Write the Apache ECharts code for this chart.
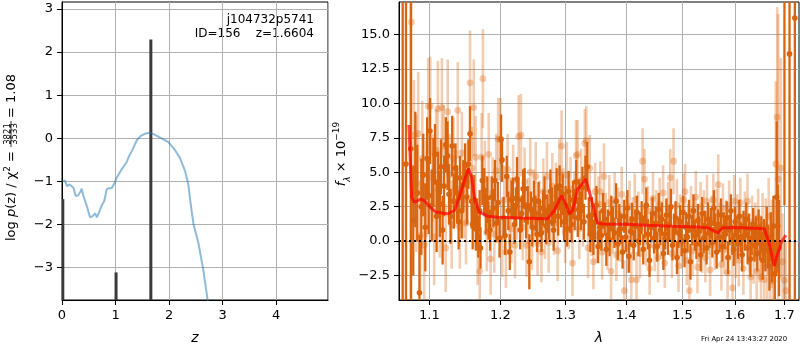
<!DOCTYPE html>
<html>
<head>
<meta charset="utf-8">
<script src="https://cdn.jsdelivr.net/npm/echarts@6/dist/echarts.min.js"></script>
<style>
  html, body { margin: 0; padding: 0; background: #fff; }
  #chart { width: 800px; height: 350px; }
</style>
</head>
<body>
<div id="chart"></div>
<script>
// ---- left panel: log p(z) ----
const pzTicks = [-3, -2, -1, 0, 1, 2, 3];
const pzLine = [
  [0.0, -1.0], [0.02, -1.03], [0.056, -0.98], [0.093, -1.11], [0.131, -1.07], [0.18, -1.11],
  [0.218, -1.16], [0.255, -1.34], [0.305, -1.32], [0.343, -1.24], [0.368, -1.17], [0.405, -1.36],
  [0.461, -1.56], [0.523, -1.83], [0.567, -1.81], [0.617, -1.74], [0.654, -1.83], [0.692, -1.72],
  [0.741, -1.56], [0.791, -1.45], [0.835, -1.18], [0.879, -1.16], [0.928, -1.16], [0.978, -1.05],
  [1.02, -0.92], [1.115, -0.72], [1.21, -0.55], [1.25, -0.42], [1.315, -0.27], [1.40, -0.04],
  [1.477, 0.06], [1.56, 0.11], [1.645, 0.13], [1.738, 0.08], [1.86, 0.0], [1.987, -0.09],
  [2.11, -0.27], [2.206, -0.46], [2.30, -0.76], [2.36, -1.07], [2.405, -1.53], [2.455, -1.98],
  [2.55, -2.44], [2.64, -3.05], [2.72, -3.74], [2.76, -4.1]
];
// template peaks (z, log p)
const pzPeaks = [[0.015, -1.41], [1.01, -3.11], [1.66, 2.29]];

// ---- right panel: spectrum ----
const waveTicks = [1.1, 1.2, 1.3, 1.4, 1.5, 1.6, 1.7];
const fluxTicks = [-2.5, 0, 2.5, 5, 7.5, 10, 12.5, 15];

// model (lambda, flux)
const modelLine = [
  [1.0728, 8.43], [1.0747, 5.56], [1.0764, 3.18], [1.0800, 2.82], [1.0887, 3.05], [1.0933, 2.94],
  [1.1000, 2.51], [1.1089, 2.10], [1.1250, 1.98], [1.1342, 2.22], [1.1412, 3.18], [1.1482, 4.37],
  [1.1539, 5.28], [1.1585, 4.61], [1.1632, 2.94], [1.1695, 2.10], [1.1815, 1.81], [1.1960, 1.74],
  [1.2300, 1.68], [1.2716, 1.62], [1.2820, 2.22], [1.2936, 3.30], [1.3000, 2.70], [1.3060, 1.98],
  [1.3112, 2.22], [1.3192, 3.77], [1.3327, 4.49], [1.3409, 3.18], [1.3491, 1.74], [1.3520, 1.31],
  [1.3600, 1.24], [1.4000, 1.22], [1.4370, 1.15], [1.4800, 1.08], [1.5280, 1.03], [1.5500, 0.95],
  [1.5560, 0.79], [1.5660, 0.60], [1.5760, 0.97], [1.6000, 0.98], [1.6400, 0.93], [1.6585, 0.90],
  [1.6685, -0.17], [1.6788, -1.80], [1.6840, -1.13], [1.6940, -0.05], [1.7030, 0.43]
];

// well measured pixels (lambda, flux, error)
const darkPoints = [
  [1.0646, 22, 40], [1.0689, 5.6, 30], [1.0753, 6.7, 30],
  [1.0785, 1.5, 4.0], [1.0812, 5.2, 4.2], [1.0838, 3.5, 3.5], [1.0867, -3.75, 4.2], [1.0892, 2.5, 3.5],
  [1.0918, 4.8, 3.0], [1.0945, 1.0, 3.2], [1.0970, 6.0, 3.0], [1.0990, 3.3, 2.8], [1.1008, 8.0, 2.4],
  [1.1032, 2.6, 2.6], [1.1055, 5.0, 2.5], [1.1076, 6.3, 2.2], [1.1098, 1.8, 2.6], [1.1120, 4.3, 2.2],
  [1.1142, 2.7, 2.4], [1.1157, 5.4, 2.0], [1.1180, 0.8, 2.5], [1.1200, 4.0, 2.2], [1.1225, 7.0, 2.0],
  [1.1248, 6.2, 2.5], [1.1268, 3.4, 2.2], [1.1290, 1.8, 2.0], [1.1312, 6.9, 2.2], [1.1335, 2.9, 2.0],
  [1.1358, 5.3, 1.8], [1.1380, 3.5, 2.0], [1.1402, 1.4, 2.0], [1.1420, 4.6, 1.6], [1.1445, 2.2, 2.0],
  [1.1468, 4.1, 1.8], [1.1492, 5.5, 1.6], [1.1518, 3.2, 2.0], [1.1540, 5.6, 1.8], [1.1562, 7.8, 2.0],
  [1.1585, 2.9, 2.0], [1.1600, 1.2, 1.8], [1.1622, 3.0, 1.8], [1.1645, 0.9, 1.6], [1.1665, 1.6, 1.5],
  [1.1680, 0.3, 1.5], [1.1700, 2.2, 1.5], [1.1712, -0.5, 1.5], [1.1738, 4.4, 1.8], [1.1765, 3.7, 1.6],
  [1.1788, 2.0, 1.5], [1.1810, 3.1, 1.6], [1.1828, 1.5, 1.4], [1.1850, 0.8, 1.5], [1.1874, 3.2, 1.5],
  [1.1898, 2.4, 1.4], [1.1920, 4.4, 1.5], [1.1942, 1.3, 1.4], [1.1965, 2.8, 1.5], [1.1988, 0.2, 1.4],
  [1.2010, 7.4, 1.8], [1.2025, 5.9, 1.6], [1.2048, 1.7, 1.5], [1.2070, 0.4, 1.4], [1.2095, 4.7, 1.5],
  [1.2118, 2.2, 1.4], [1.2140, -0.8, 1.3], [1.2165, 3.0, 1.4], [1.2186, 3.1, 1.5], [1.2210, 1.2, 1.4],
  [1.2232, 2.6, 1.3], [1.2248, 4.5, 1.6], [1.2272, 3.0, 1.4], [1.2295, 0.8, 1.4], [1.2318, 2.0, 1.3],
  [1.2340, 3.8, 1.4], [1.2362, 3.8, 1.5], [1.2385, 1.5, 1.3], [1.2410, 2.6, 1.4], [1.2434, -1.5, 2.0],
  [1.2458, 2.3, 1.3], [1.2480, 1.0, 1.4], [1.2505, 3.0, 1.4], [1.2528, 2.0, 1.3], [1.2552, 0.5, 1.3],
  [1.2575, 2.9, 1.4], [1.2600, 1.6, 1.3], [1.2622, 0.6, 1.4], [1.2645, 2.4, 1.3], [1.2668, 3.2, 1.5],
  [1.2692, 1.1, 1.3], [1.2715, 2.0, 1.4], [1.2738, 1.4, 1.3], [1.2760, 3.6, 1.6], [1.2785, 2.5, 1.4],
  [1.2810, 0.8, 1.5], [1.2835, 2.7, 1.4], [1.2858, 3.8, 1.5], [1.2882, 1.8, 1.4], [1.2905, 4.0, 1.5],
  [1.2928, 2.4, 1.4], [1.2952, 3.4, 1.5], [1.2975, 1.4, 1.4], [1.3000, 2.6, 1.4], [1.3025, 0.9, 1.3],
  [1.3048, 3.6, 1.5], [1.3072, 2.0, 1.4], [1.3095, 1.2, 1.3], [1.3120, 3.0, 1.4], [1.3145, 2.3, 1.5],
  [1.3170, 4.3, 1.6], [1.3195, 1.7, 1.4], [1.3220, 3.0, 1.5], [1.3245, 2.2, 1.4], [1.3270, 3.9, 1.5],
  [1.3295, 1.4, 1.3], [1.3320, 4.6, 1.6], [1.3350, 5.4, 1.8], [1.3375, 1.8, 1.4], [1.3400, 0.5, 1.3],
  [1.3425, 1.9, 1.3], [1.3450, 0.2, 1.2], [1.3475, 1.4, 1.2], [1.3500, 2.6, 1.4], [1.3528, -0.4, 1.2],
  [1.3555, 1.0, 1.2], [1.3582, 0.4, 1.1], [1.3610, 2.2, 1.3], [1.3638, 1.6, 1.2], [1.3665, -0.6, 1.2],
  [1.3692, 1.2, 1.1], [1.3720, 0.1, 1.2], [1.3748, 2.0, 1.3], [1.3775, 1.3, 1.2], [1.3802, 0.6, 1.1],
  [1.3830, 2.9, 1.3], [1.3858, -0.2, 1.2], [1.3885, 1.5, 1.2], [1.3912, 0.9, 1.1], [1.3940, -0.8, 1.2],
  [1.3968, 1.8, 1.2], [1.3995, 0.3, 1.1], [1.4022, 2.4, 1.3], [1.4050, -1.1, 1.2], [1.4078, 0.7, 1.1],
  [1.4105, 1.6, 1.2], [1.4132, -0.3, 1.1], [1.4160, 1.1, 1.2], [1.4188, 2.1, 1.2], [1.4215, 0.0, 1.1],
  [1.4242, 0.9, 1.2], [1.4270, 1.7, 1.2], [1.4298, -0.6, 1.1], [1.4325, 1.4, 1.2], [1.4352, 2.6, 1.3],
  [1.4380, 0.5, 1.1], [1.4408, -1.4, 1.2], [1.4435, 1.0, 1.1], [1.4462, 2.0, 1.2], [1.4490, 0.2, 1.1],
  [1.4518, 1.3, 1.2], [1.4545, -0.4, 1.1], [1.4572, 2.3, 1.2], [1.4600, 0.8, 1.1], [1.4628, 1.6, 1.2],
  [1.4655, -0.9, 1.2], [1.4682, 0.5, 1.1], [1.4710, 1.9, 1.2], [1.4738, 0.1, 1.1], [1.4765, 1.2, 1.2],
  [1.4792, 2.5, 1.3], [1.4820, -0.3, 1.1], [1.4848, 0.9, 1.1], [1.4875, 1.7, 1.2], [1.4902, -1.2, 1.2],
  [1.4930, 0.6, 1.1], [1.4958, 1.4, 1.2], [1.4985, 0.0, 1.1], [1.5012, 2.1, 1.2], [1.5040, -0.7, 1.2],
  [1.5068, 1.0, 1.1], [1.5095, 0.3, 1.1], [1.5122, 1.8, 1.2], [1.5150, -1.5, 1.3], [1.5178, 0.8, 1.1],
  [1.5205, 2.2, 1.2], [1.5232, 0.4, 1.1], [1.5260, -0.2, 1.1], [1.5288, 1.5, 1.2], [1.5315, 0.7, 1.1],
  [1.5342, -1.0, 1.2], [1.5370, 2.0, 1.2], [1.5398, 0.2, 1.1], [1.5425, 1.1, 1.1], [1.5452, -0.5, 1.2],
  [1.5480, 1.6, 1.2], [1.5508, 0.6, 1.1], [1.5535, 1.3, 1.1], [1.5562, -0.1, 1.1], [1.5590, 2.4, 1.3],
  [1.5618, 0.9, 1.1], [1.5645, -0.8, 1.2], [1.5672, 1.2, 1.1], [1.5700, 0.3, 1.1], [1.5728, 1.9, 1.2],
  [1.5755, -0.4, 1.1], [1.5782, 1.0, 1.1], [1.5810, 0.5, 1.1], [1.5838, 1.7, 1.2], [1.5865, -1.2, 1.2],
  [1.5892, 0.8, 1.1], [1.5920, 2.2, 1.2], [1.5948, 0.1, 1.1], [1.5975, -0.6, 1.2], [1.6002, 1.4, 1.1],
  [1.6030, 0.7, 1.1], [1.6058, -0.2, 1.1], [1.6085, 1.8, 1.2], [1.6112, 0.3, 1.1], [1.6140, -1.0, 1.2],
  [1.6168, 1.1, 1.1], [1.6195, 0.4, 1.1], [1.6222, 1.6, 1.2], [1.6250, -0.5, 1.2], [1.6278, 0.9, 1.1],
  [1.6305, -1.3, 1.3], [1.6332, 0.2, 1.2], [1.6360, 1.2, 1.2], [1.6388, -0.3, 1.2], [1.6415, 0.6, 1.2],
  [1.6442, -0.9, 1.3], [1.6470, 1.0, 1.3], [1.6498, -0.1, 1.3], [1.6525, 0.5, 1.3], [1.6552, -1.4, 1.4],
  [1.6580, 0.2, 1.4], [1.6608, -0.7, 1.5], [1.6635, 0.9, 1.6], [1.6662, -0.4, 1.6], [1.6690, -1.8, 1.8],
  [1.6718, 0.3, 1.8], [1.6745, -1.0, 2.0], [1.6772, 1.1, 2.2], [1.6800, -2.4, 2.5], [1.6840, 3.2, 5.5],
  [1.6860, 1.1, 3.0], [1.6888, -0.5, 3.5], [1.7000, 25, 22.4], [1.7106, 13.6, 30], [1.7218, 16.2, 30]
];

// noisy pixels (lambda, flux, error)
const lightPoints = [
  [1.0760, 15.9, 30], [1.0795, 7.7, 4.0], [1.0825, 4.2, 5.0], [1.0850, 7.8, 4.5], [1.0878, 0.4, 4.0],
  [1.0905, 6.0, 4.2], [1.0930, -0.3, 4.0], [1.0958, 3.8, 3.5], [1.0985, 9.8, 3.5], [1.1013, 9.8, 3.6],
  [1.1040, 4.6, 3.2], [1.1065, 0.3, 3.5], [1.1090, 6.6, 3.0], [1.1115, 9.6, 3.5], [1.1140, 2.0, 3.2],
  [1.1170, 9.7, 3.6], [1.1195, 6.9, 3.0], [1.1222, -0.5, 3.2], [1.1250, 9.4, 3.8], [1.1275, 4.8, 3.0],
  [1.1305, 1.2, 3.2], [1.1330, 6.0, 3.0], [1.1362, 3.8, 2.8], [1.1390, 9.5, 3.5], [1.1418, 1.0, 3.0],
  [1.1448, 6.4, 3.0], [1.1478, 3.0, 2.8], [1.1505, 1.3, 3.0], [1.1530, 4.3, 3.0], [1.1562, 11.5, 3.8],
  [1.1590, 5.3, 3.0], [1.1615, 9.7, 3.5], [1.1642, 6.1, 3.0], [1.1672, -0.2, 3.0], [1.1700, -2.2, 3.0],
  [1.1728, 6.1, 3.2], [1.1746, 11.8, 3.6], [1.1775, 4.5, 2.8], [1.1802, 0.6, 2.8], [1.1830, 6.3, 3.0],
  [1.1858, -1.3, 2.6], [1.1885, 3.5, 2.6], [1.1912, 0.5, 2.8], [1.1940, 5.1, 2.7], [1.1968, 7.4, 3.0],
  [1.2000, 7.4, 3.0], [1.2028, 0.2, 2.8], [1.2055, 3.0, 2.5], [1.2082, -0.8, 2.6], [1.2108, 5.2, 2.6],
  [1.2135, 2.2, 2.4], [1.2162, 0.9, 2.5], [1.2190, 4.4, 2.6], [1.2218, -0.3, 2.4], [1.2245, 2.5, 2.4],
  [1.2272, 7.6, 3.0], [1.2307, 7.7, 3.0], [1.2335, 1.0, 2.4], [1.2362, 4.3, 2.5], [1.2390, -0.3, 2.3],
  [1.2418, 2.2, 2.4], [1.2448, 5.0, 2.5], [1.2475, 0.2, 2.3], [1.2505, 2.8, 2.4], [1.2532, 4.7, 2.5],
  [1.2560, -0.2, 2.3], [1.2588, 2.1, 2.3], [1.2620, -0.8, 2.2], [1.2648, 3.6, 2.4], [1.2675, 0.9, 2.2],
  [1.2705, 4.7, 2.5], [1.2732, -0.1, 2.2], [1.2760, 2.3, 2.3], [1.2790, 4.0, 2.4], [1.2818, 1.2, 2.2],
  [1.2845, 3.4, 2.3], [1.2873, -0.7, 2.2], [1.2900, 5.0, 2.4], [1.2936, 6.9, 2.6], [1.2965, 3.0, 2.3],
  [1.2992, 0.6, 2.2], [1.3020, 4.8, 2.4], [1.3050, 1.6, 2.2], [1.3078, 3.8, 2.3], [1.3110, -1.6, 2.4],
  [1.3140, 2.9, 2.2], [1.3168, 6.2, 2.6], [1.3192, 6.3, 2.5], [1.3220, 0.9, 2.2], [1.3250, 4.4, 2.3],
  [1.3280, 1.8, 2.2], [1.3310, 7.1, 2.5], [1.3333, 7.3, 2.5], [1.3362, -0.5, 2.2], [1.3390, 5.3, 2.4],
  [1.3420, 1.0, 2.1], [1.3450, -1.5, 2.0], [1.3478, 3.6, 2.1], [1.3505, 0.4, 2.0], [1.3535, 2.7, 2.0],
  [1.3565, 3.6, 2.2], [1.3595, -0.8, 2.0], [1.3625, 4.7, 2.4], [1.3655, 1.5, 2.0], [1.3685, -0.2, 1.9],
  [1.3715, 2.8, 2.0], [1.3745, -2.2, 2.2], [1.3775, 1.0, 1.9], [1.3805, 3.0, 2.0], [1.3835, -1.0, 1.9],
  [1.3865, 2.0, 1.9], [1.3895, 0.3, 1.8], [1.3925, 3.4, 2.0], [1.3970, -3.6, 2.2], [1.4000, 1.4, 1.9],
  [1.4030, -0.5, 1.8], [1.4060, 2.5, 1.9], [1.4090, -2.8, 2.0], [1.4120, 0.9, 1.8], [1.4150, 3.0, 1.9],
  [1.4180, -2.8, 2.0], [1.4210, 1.8, 1.8], [1.4240, -0.9, 1.8], [1.4286, 5.8, 2.4], [1.4320, 4.5, 2.2],
  [1.4350, 0.0, 1.8], [1.4380, 2.2, 1.8], [1.4410, -2.0, 1.9], [1.4440, 1.3, 1.8], [1.4470, 3.1, 1.9],
  [1.4500, -0.4, 1.8], [1.4530, 1.9, 1.8], [1.4560, -1.2, 1.8], [1.4590, 2.7, 1.9], [1.4620, 0.5, 1.8],
  [1.4650, 3.5, 2.0], [1.4680, -1.6, 1.8], [1.4710, 1.2, 1.8], [1.4740, 2.4, 1.9], [1.4780, 4.6, 2.1],
  [1.4810, -0.9, 1.8], [1.4839, 5.8, 2.4], [1.4870, 0.6, 1.8], [1.4900, 2.6, 1.9], [1.4930, -1.8, 1.9],
  [1.4960, 1.6, 1.8], [1.4990, -0.2, 1.8], [1.5020, 3.0, 1.9], [1.5050, 3.6, 2.0], [1.5080, -1.4, 1.8],
  [1.5110, 0.9, 1.8], [1.5130, -3.6, 2.2], [1.5160, 2.2, 1.8], [1.5190, -0.7, 1.8], [1.5220, 1.4, 1.8],
  [1.5250, 3.2, 1.9], [1.5280, -1.9, 1.9], [1.5310, 0.3, 1.8], [1.5340, 2.5, 1.8], [1.5370, -0.5, 1.8],
  [1.5400, 1.9, 1.8], [1.5430, -1.2, 1.8], [1.5460, 2.9, 1.9], [1.5490, 0.8, 1.8], [1.5520, -2.1, 1.9],
  [1.5550, 1.5, 1.8], [1.5580, 3.0, 1.9], [1.5610, -0.3, 1.8], [1.5640, 2.0, 1.8], [1.5675, 4.1, 2.2],
  [1.5705, 1.0, 1.8], [1.5735, -1.7, 1.9], [1.5765, 2.4, 1.8], [1.5795, -0.6, 1.8], [1.5825, 1.2, 1.8],
  [1.5855, -2.3, 1.9], [1.5885, 2.6, 1.8], [1.5920, 0.4, 1.8], [1.5952, -3.4, 2.0], [1.5985, 2.9, 1.9],
  [1.6015, -0.9, 1.8], [1.6045, 1.6, 1.8], [1.6075, -1.4, 1.9], [1.6105, 2.8, 1.8], [1.6135, 0.2, 1.8],
  [1.6165, -2.0, 1.9], [1.6195, 1.8, 1.8], [1.6247, 2.9, 2.0], [1.6280, -0.4, 1.9], [1.6310, -2.6, 2.0],
  [1.6340, 1.4, 1.9], [1.6370, -1.1, 2.0], [1.6400, 0.8, 2.0], [1.6430, -2.2, 2.1], [1.6460, 1.7, 2.1],
  [1.6490, -0.8, 2.2], [1.6520, -2.6, 2.2], [1.6550, 1.2, 2.3], [1.6585, -2.8, 2.4], [1.6615, 0.6, 2.5],
  [1.6645, -1.9, 2.6], [1.6675, 1.8, 2.8], [1.6705, -2.3, 3.0], [1.6735, -0.2, 3.2], [1.6765, -2.9, 3.5],
  [1.6820, 5.6, 6.0], [1.6850, 9.0, 8.0], [1.6870, 4.5, 12], [1.6925, 5.3, 8.0], [1.6960, -1.5, 3.5],
  [1.7000, -2.85, 3.0], [1.7030, -3.6, 3.5]
];

const FONT = 'DejaVu Sans';
const ORANGE = '#d9640d';
const minus = (v) => String(v).replace('-', '\u2212');

// vertical error bar with a dot, drawn through the axis scales
function errorBarItem(color, lineW, radius) {
  return function (params, api) {
    const x = api.value(0), y = api.value(1), e = api.value(2);
    const lo = api.coord([x, y - e]);
    const hi = api.coord([x, y + e]);
    const c = api.coord([x, y]);
    return {
      type: 'group',
      children: [
        { type: 'line', shape: { x1: lo[0], y1: lo[1], x2: hi[0], y2: hi[1] },
          style: { stroke: color, lineWidth: lineW } },
        { type: 'circle', shape: { cx: c[0], cy: c[1], r: radius }, style: { fill: color } }
      ]
    };
  };
}

const chart = echarts.init(document.getElementById('chart'), null, { renderer: 'canvas' });

const axisCommon = {
  axisLine: { onZero: false, lineStyle: { color: '#000', width: 1 } },
  axisTick: { show: true, inside: false, length: 5, lineStyle: { color: '#000' } },
  axisLabel: { color: '#000', fontFamily: FONT, fontSize: 13, margin: 9 },
  splitLine: { show: true, lineStyle: { color: '#b0b0b0', width: 1 } },
  nameTextStyle: { color: '#000', fontFamily: FONT, fontSize: 14, fontStyle: 'italic' }
};

const option = {
  animation: false,
  backgroundColor: '#fff',
  grid: [
    { left: 62, top: 2, width: 266, height: 302, show: true, borderColor: '#000', borderWidth: 1, backgroundColor: 'transparent' },
    { left: 399, top: 2, width: 400, height: 302, show: true, borderColor: '#000', borderWidth: 1, backgroundColor: 'transparent' }
  ],
  xAxis: [
    Object.assign({}, axisCommon, {
      gridIndex: 0, type: 'value', min: 0, max: 4.97, interval: 1,
      name: 'z', nameLocation: 'middle', nameGap: 31,
      axisLabel: Object.assign({}, axisCommon.axisLabel, { showMaxLabel: false })
    }),
    Object.assign({}, axisCommon, {
      gridIndex: 1, type: 'log', logBase: 10, min: 1.0598, max: 1.7306,
      name: 'λ', nameLocation: 'middle', nameGap: 31,
      axisTick: Object.assign({}, axisCommon.axisTick, { customValues: waveTicks }),
      axisLabel: Object.assign({}, axisCommon.axisLabel, { customValues: waveTicks, formatter: (v) => Number(v).toFixed(1) })
    })
  ],
  yAxis: [
    Object.assign({}, axisCommon, {
      gridIndex: 0, type: 'value', min: -3.75, max: 3.16,
      axisTick: Object.assign({}, axisCommon.axisTick, { customValues: pzTicks }),
      axisLabel: Object.assign({}, axisCommon.axisLabel, { customValues: pzTicks, formatter: (v) => minus(v) })
    }),
    Object.assign({}, axisCommon, {
      gridIndex: 1, type: 'value', min: -4.28, max: 17.37,
      axisTick: Object.assign({}, axisCommon.axisTick, { customValues: fluxTicks }),
      axisLabel: Object.assign({}, axisCommon.axisLabel, { customValues: fluxTicks, formatter: (v) => minus(Number(v).toFixed(1)) })
    })
  ],
  series: [
    {
      name: 'log p(z)', type: 'line', xAxisIndex: 0, yAxisIndex: 0,
      data: pzLine, showSymbol: false, clip: true,
      lineStyle: { color: 'rgba(31,119,180,0.5)', width: 2 }
    },
    {
      name: 'peaks', type: 'custom', xAxisIndex: 0, yAxisIndex: 0, clip: true,
      data: pzPeaks,
      renderItem: function (params, api) {
        const top = api.coord([api.value(0), api.value(1)]);
        const base = api.coord([api.value(0), -3.75]);
        return { type: 'rect', shape: { x: top[0] - 1.5, y: top[1], width: 3, height: base[1] - top[1] },
          style: { fill: '#3a3a3a' } };
      }
    },
    {
      name: 'noisy', type: 'custom', xAxisIndex: 1, yAxisIndex: 1, clip: true,
      data: lightPoints, renderItem: errorBarItem('rgba(217,100,13,0.32)', 2.6, 3.4)
    },
    {
      name: 'flux', type: 'custom', xAxisIndex: 1, yAxisIndex: 1, clip: true,
      data: darkPoints, renderItem: errorBarItem(ORANGE, 2.3, 2.8)
    },
    {
      name: 'model', type: 'line', xAxisIndex: 1, yAxisIndex: 1,
      data: modelLine, showSymbol: false, clip: true, z: 5,
      lineStyle: { color: 'rgba(255,0,0,0.7)', width: 3 },
      markLine: {
        silent: true, symbol: 'none', label: { show: false },
        lineStyle: { color: '#000', type: [2, 3], width: 2 },
        data: [{ yAxis: 0 }]
      }
    }
  ],
  graphic: [
    { type: 'text', right: 800 - 314, top: 14, style: { text: 'j104732p5741', fontFamily: FONT, fontSize: 12, fill: '#000', align: 'right' } },
    { type: 'text', right: 800 - 314, top: 28, style: { text: 'ID=156    z=1.6604', fontFamily: FONT, fontSize: 12, fill: '#000', align: 'right' } },
    // left y label, rotated, built from pieces
    { type: 'text', x: 12, y: 151, rotation: Math.PI / 2,
      style: { text: '{n|log }{i|p}{n|(z) / χ}{p|2}{n| =}', align: 'right', verticalAlign: 'middle', fill: '#000',
        rich: {
          n: { fontFamily: FONT, fontSize: 13, lineHeight: 18, verticalAlign: 'middle' },
          i: { fontFamily: FONT, fontSize: 13, fontStyle: 'italic', lineHeight: 18, verticalAlign: 'middle' },
          p: { fontFamily: FONT, fontSize: 9, lineHeight: 9, verticalAlign: 'top' }
        } } },
    { type: 'text', x: 7.5, y: 134, rotation: Math.PI / 2,
      style: { text: '3821', align: 'center', verticalAlign: 'middle', fontFamily: FONT, fontSize: 8.5, fill: '#000' } },
    { type: 'line', shape: { x1: 11, y1: 147, x2: 11, y2: 121 }, style: { stroke: '#000', lineWidth: 0.8 } },
    { type: 'text', x: 14.5, y: 134, rotation: Math.PI / 2,
      style: { text: '3533', align: 'center', verticalAlign: 'middle', fontFamily: FONT, fontSize: 8.5, fill: '#000' } },
    { type: 'text', x: 12, y: 118, rotation: Math.PI / 2,
      style: { text: '= 1.08', align: 'left', verticalAlign: 'middle', fontFamily: FONT, fontSize: 13, fill: '#000' } },
    // right y label
    { type: 'text', x: 342, y: 154, rotation: Math.PI / 2,
      style: { text: '{i|f}{s|λ}{n| × 10}{p|−19}', align: 'center', verticalAlign: 'middle', fill: '#000',
        rich: {
          n: { fontFamily: FONT, fontSize: 13, lineHeight: 20, verticalAlign: 'middle' },
          i: { fontFamily: FONT, fontSize: 13, fontStyle: 'italic', lineHeight: 20, verticalAlign: 'middle' },
          s: { fontFamily: FONT, fontSize: 9, fontStyle: 'italic', lineHeight: 9, verticalAlign: 'bottom' },
          p: { fontFamily: FONT, fontSize: 9, lineHeight: 9, verticalAlign: 'top' }
        } } },
    { type: 'text', x: 701, y: 339, style: { text: 'Fri Apr 24 13:43:27 2020', fontFamily: FONT, fontSize: 6.9, fill: '#000', verticalAlign: 'middle' } }
  ]
};

chart.setOption(option);
</script>
</body>
</html>
